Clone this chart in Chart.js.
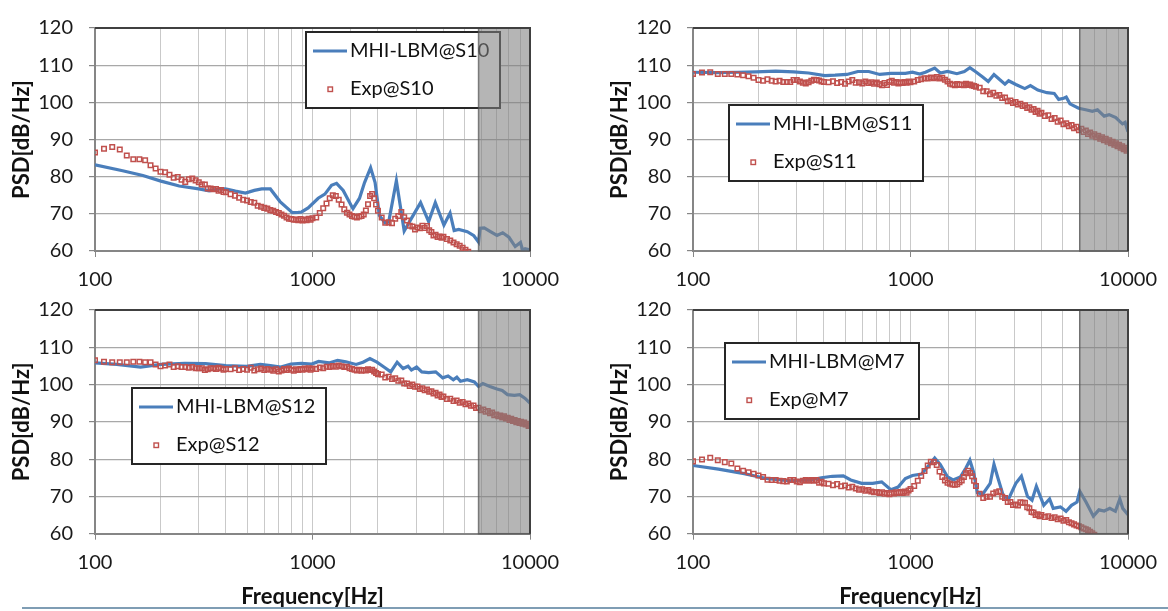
<!DOCTYPE html>
<html>
<head>
<meta charset="utf-8">
<script src="https://cdn.jsdelivr.net/npm/chart.js@4.4.1/dist/chart.umd.min.js"></script>
<style>
  body { margin: 0; background: #fff; width: 1168px; height: 611px; position: relative; overflow: hidden; }
  canvas { position: absolute; }
  #rule { position: absolute; left: 22px; top: 607px; width: 1146px; height: 2px; background: #7f9db4; }
</style>
</head>
<body>
<canvas id="c1" width="570" height="300" style="left:0;top:0"></canvas>
<canvas id="c2" width="570" height="300" style="left:598px;top:0"></canvas>
<canvas id="c3" width="570" height="328" style="left:0;top:282px"></canvas>
<canvas id="c4" width="570" height="328" style="left:598px;top:282px"></canvas>
<div id="rule"></div>
<script>
// tick labels
const xTickLabels = ['100', '1000', '10000'];
const yTicks = [60, 70, 80, 90, 100, 110, 120];

// experiment frequency bins (Hz)
const expFreq = [100,110,120,130,140,150,160,170,180,190,200,210,220,230,240,250,260,270,280,290,300,310,320,330,340,350,360,370,380,390,400,
  420,440,460,480,500,520,540,560,580,600,620,640,660,680,700,720,740,760,780,800,820,840,860,880,900,920,940,960,980,1000,
  1040,1080,1120,1160,1200,1240,1280,1320,1360,1400,1440,1480,1520,1560,1600,1640,1680,1720,1760,1800,1840,1880,1920,1960,2000,
  2080,2160,2240,2320,2400,2480,2560,2640,2720,2800,2880,2960,3040,3120,3200,3280,3360,3440,3520,3600,3680,3760,3840,3920,4000,
  4150,4300,4450,4600,4750,4900,5050,5200,5350,5500,5650,5800,5950,6100,6250,6400,6550,6700,6850,7000,7150,7300,7450,7600,7750,7900,8050,8200,8350,8500,8650,8800,8950,9100,9250,9400,9550,9700,9850,10000];

// S10
const simFreqS10 = [100,134,166,201,244,300,335,372,398,442,492,540,584,640,709,808,860,891,955,1062,1140,1223,1290,1384,1510,1535,1645,1735,1850,1940,2030,2150,2240,2430,2640,2845,3140,3420,3670,4020,4290,4480,4700,5150,5520,5800,5900,6160,6580,7050,7490,8000,8550,9040,9250,9500,10000];
const simS10 = [83.2,81.6,80.3,78.8,77.5,76.7,76.2,76.7,76.7,76.1,75.6,76.3,76.7,76.7,73.3,70.3,70.4,70.5,71.6,74.2,75.3,77.7,78.2,76.3,72.1,71.4,74.2,78.4,82.4,78.4,69.6,67.6,67.8,78.9,65.4,68.7,73.0,67.9,73.0,67.0,70.2,65.5,65.8,65.2,64.1,62.4,66.1,66.2,65.2,64.2,64.9,63.7,61.2,62.3,60.2,60.6,60.3];
const expS10 = [86.5,87.5,88.0,87.3,85.7,84.7,84.7,84.4,83.1,82.2,81.3,81.2,80.5,79.7,79.9,79.2,78.6,79.3,79.5,79.0,78.5,77.9,77.9,76.8,76.8,76.6,76.7,76.2,76.4,75.9,75.8,
  75.3,74.9,74.3,73.8,73.6,73.2,73.0,72.2,71.9,71.6,71.4,71.0,70.8,70.5,70.2,69.8,69.5,69.0,68.7,68.6,68.4,68.5,68.3,68.6,68.2,68.5,68.3,68.7,68.4,68.8,
  69.0,70.2,71.5,72.8,74.2,75.0,74.8,73.8,72.5,71.2,70.3,69.8,69.4,69.2,69.0,69.3,69.4,69.8,70.9,72.6,74.8,75.3,74.2,72.5,70.8,
  69.0,67.6,67.7,67.5,68.7,69.4,70.5,69.1,68.2,66.8,66.6,65.8,66.3,66.1,66.8,66.2,66.7,65.6,65.1,64.2,64.4,63.8,63.9,63.6,63.8,
  63.2,62.8,62.3,61.8,61.4,60.9,60.3,59.8];

// S11
const simFreqS11 = [100,130,160,195,240,290,340,404,450,510,573,643,722,812,947,1021,1104,1171,1292,1370,1481,1634,1768,1875,1987,2147,2277,2420,2561,2718,2825,3050,3354,3560,3850,4240,4580,4800,5060,5200,5410,5930,6390,6860,7240,7770,8190,8790,9110,9430,9700,10000];
const simS11 = [108.1,108.0,108.1,108.2,108.4,108.2,107.9,107.2,107.3,107.5,108.3,108.3,107.5,107.8,107.8,108.1,107.6,108.1,109.2,107.9,108.3,107.7,108.3,109.3,108.3,106.8,105.6,107.5,106.2,104.9,105.8,104.8,103.7,104.5,103.3,102.6,102.4,100.8,101.1,101.4,99.6,98.4,98.0,97.6,98.0,96.3,96.7,95.9,95.0,94.2,94.6,92.1];
const expS11 = [107.6,108.0,108.1,107.6,107.6,107.6,107.5,107.3,107.0,106.6,106.0,105.8,106.2,105.8,105.6,105.8,105.5,105.5,105.5,106.0,106.0,105.6,105.3,105.1,105.4,105.8,106.1,106.0,105.9,105.6,105.5,
  105.4,105.7,105.2,105.5,105.0,105.6,106.0,105.3,105.4,105.1,105.6,105.2,105.4,105.0,105.3,104.9,104.6,105.2,104.7,105.5,105.8,105.3,105.5,105.1,105.4,105.2,105.5,105.3,105.6,105.4,
  105.6,106.0,106.2,106.5,106.4,106.7,106.5,106.8,106.4,106.6,106.1,105.6,105.0,104.8,104.6,104.9,104.7,104.8,104.6,105.0,104.7,104.8,104.5,104.4,104.2,
  103.9,103.0,103.0,102.2,102.6,101.8,102.0,101.2,101.3,100.3,100.5,99.8,100.1,99.4,99.6,99.0,99.2,98.5,98.7,98.0,98.2,97.4,97.7,96.9,97.2,
  96.3,96.5,95.5,95.8,94.8,95.1,94.1,94.4,93.6,93.9,93.0,93.4,92.5,92.9,92.0,92.4,91.5,91.9,91.0,91.4,90.6,91.0,90.2,90.6,89.8,90.2,89.4,89.8,89.0,89.4,88.6,89.0,88.2,88.6,87.8,88.2,87.4,87.8,87.0,87.3];

// S12
const simFreqS12 = [100,126,162,201,259,322,400,498,576,641,715,797,889,992,1067,1190,1305,1423,1586,1707,1837,1978,2130,2290,2450,2610,2750,2850,3010,3180,3420,3685,3970,4200,4440,4610,4790,5150,5550,5800,6070,6540,7050,7450,7880,8480,8970,9500,10000];
const simS12 = [105.8,105.4,104.7,105.4,105.7,105.6,105.1,104.9,105.4,105.1,104.7,105.5,105.7,105.5,106.2,105.8,106.5,106.1,105.4,106.0,107.0,106.0,104.7,103.4,106.0,104.3,104.9,103.9,104.7,103.4,103.2,103.4,101.8,102.3,101.3,102.0,100.9,101.3,100.7,99.5,100.3,99.5,98.8,98.4,97.3,97.1,97.3,96.3,95.0];
const expS12 = [106.5,106.1,106.0,106.0,106.0,106.1,106.1,106.0,106.0,105.4,104.9,105.1,105.4,104.7,104.9,104.7,104.7,104.5,104.7,104.4,104.4,104.4,103.9,104.1,104.4,104.4,104.2,104.5,104.3,104.0,104.2,
  104.1,104.4,103.9,104.2,104.0,104.5,103.8,104.1,104.3,103.9,104.2,104.0,103.7,104.1,103.5,103.8,104.2,103.9,104.3,104.0,103.7,104.1,103.9,104.2,104.0,104.3,104.1,104.4,104.0,104.3,
  104.2,104.6,104.4,104.8,104.7,105.0,104.8,105.1,104.9,104.7,104.8,104.4,104.2,104.0,103.8,104.0,103.7,103.9,103.8,104.1,103.9,104.0,103.5,103.1,102.8,
  102.7,101.9,102.1,101.5,101.7,101.0,101.1,100.3,100.3,99.6,100.0,99.4,99.5,98.8,99.0,98.5,98.7,98.1,98.2,97.6,97.8,97.1,97.3,96.7,96.8,
  96.1,96.2,95.6,95.7,95.1,95.3,94.7,94.9,94.3,94.4,93.7,93.8,93.1,93.3,92.7,92.9,92.3,92.5,91.8,92.0,91.5,91.7,91.2,91.5,90.9,91.1,90.5,90.8,90.2,90.5,89.9,90.2,89.7,90.0,89.5,89.8,89.3,89.5,88.9,89.0];

// M7
const simFreqM7 = [100,131,172,217,274,346,389,437,491,531,596,670,737,812,877,947,1021,1124,1190,1292,1370,1481,1570,1695,1800,1875,1950,2030,2147,2325,2420,2515,2670,2825,3050,3235,3450,3620,3790,4100,4360,4530,4890,5190,5500,5830,6000,6410,6930,7350,7770,8250,8750,9170,9460,10000];
const simM7 = [78.3,77.3,76.1,74.8,74.2,74.4,75.0,75.4,75.5,74.4,73.5,73.5,73.9,71.8,72.5,74.8,75.6,76.0,77.7,80.3,78.6,75.2,74.4,75.2,77.7,79.7,76.5,71.0,70.6,73.5,78.6,75.2,70.2,69.3,73.5,75.4,70.0,69.0,72.7,67.6,69.3,66.8,67.2,66.0,67.6,68.5,71.4,68.5,64.7,66.4,66.1,66.8,66.0,69.3,66.8,65.1];
const expM7 = [79.4,79.9,80.4,79.7,79.2,78.8,77.5,76.9,76.5,76.1,75.6,75.2,74.5,74.4,74.4,74.2,74.1,74.0,74.4,74.4,74.0,73.8,74.2,74.4,74.2,74.4,74.2,74.4,73.7,73.9,73.5,
  73.4,73.0,73.3,72.7,72.9,72.4,72.6,72.1,71.8,71.9,71.5,71.7,71.3,71.1,71.2,70.9,71.1,70.7,70.9,70.6,71.0,70.8,71.1,70.9,71.2,70.9,71.3,71.0,71.6,72.0,
  72.8,74.2,75.5,76.8,78.3,79.3,79.2,78.4,76.7,75.2,74.3,73.7,73.4,73.2,73.1,73.3,73.8,74.3,75.2,76.2,76.9,76.3,75.4,74.2,72.8,
  70.7,69.6,69.9,69.9,70.8,71.1,71.4,69.9,69.6,68.5,68.5,67.7,67.8,67.6,68.4,68.3,68.3,67.1,66.8,65.8,65.7,65.0,65.2,64.7,65.0,
  64.5,64.7,64.2,64.4,63.9,64.1,63.5,63.7,63.1,62.8,62.5,62.2,62.0,61.7,61.4,61.2,60.9,60.5,60.1,59.7];

const simColor = '#4a7ebb';
const expColor = '#c0504d';
Chart.defaults.font.family = 'Lato';

function pairs(freqs, vals) {
  return vals.map((v, i) => ({ x: freqs[i], y: v }));
}

// legend box, shaded band and dark top/right frame
const panelDeco = {
  id: 'panelDeco',
  afterDraw(chart, args, o) {
    const { ctx, chartArea: a } = chart;
    const L = o.legend;
    ctx.save();
    ctx.fillStyle = '#fff';
    ctx.fillRect(L.x, L.y, 194, 76);
    ctx.lineWidth = 2;
    ctx.strokeStyle = '#262626';
    ctx.strokeRect(L.x, L.y, 194, 76);
    ctx.strokeStyle = simColor;
    ctx.lineWidth = 3.2;
    ctx.beginPath();
    ctx.moveTo(L.x + 7, L.y + 19);
    ctx.lineTo(L.x + 41, L.y + 19);
    ctx.stroke();
    ctx.strokeStyle = expColor;
    ctx.lineWidth = 1.4;
    ctx.strokeRect(L.x + 22, L.y + 55, 4.5, 4.5);
    ctx.fillStyle = '#111';
    ctx.font = '20px Lato';
    ctx.textBaseline = 'middle';
    ctx.fillText(o.names[0], L.x + 44, L.y + 19);
    ctx.fillText(o.names[1], L.x + 44, L.y + 57);

    const sx = chart.scales.x.getPixelForValue(o.shadeFrom);
    ctx.fillStyle = 'rgba(128,128,128,0.58)';
    ctx.fillRect(sx, a.top, a.right - sx, a.bottom - a.top);
    ctx.strokeStyle = 'rgba(80,80,80,0.7)';
    ctx.lineWidth = 1.5;
    ctx.strokeRect(sx, a.top, a.right - sx, a.bottom - a.top);

    ctx.strokeStyle = '#404040';
    ctx.lineWidth = 2;
    ctx.beginPath();
    ctx.moveTo(a.left, a.top);
    ctx.lineTo(a.right, a.top);
    ctx.lineTo(a.right, a.bottom);
    ctx.stroke();
    ctx.restore();
  }
};

function makePanel(id, p) {
  new Chart(document.getElementById(id), {
    type: 'scatter',
    data: {
      datasets: [
        { label: p.names[0], data: pairs(p.simF, p.simV), showLine: true, borderColor: simColor, borderWidth: 3.2, pointRadius: 0, tension: 0, order: 1 },
        { label: p.names[1], data: pairs(expFreq, p.expV), showLine: false, pointStyle: 'rect', pointRadius: 3.2,
          pointBorderWidth: 1.5, pointBorderColor: expColor, pointBackgroundColor: 'rgba(0,0,0,0)', order: 0 }
      ]
    },
    options: {
      responsive: false,
      animation: false,
      devicePixelRatio: 1,
      layout: { padding: { left: 0, right: 37, top: 14, bottom: 0 } },
      plugins: {
        legend: { display: false },
        tooltip: { enabled: false },
        panelDeco: { legend: p.legend, names: p.names, shadeFrom: p.shadeFrom }
      },
      scales: {
        x: {
          type: 'logarithmic', min: 100, max: 10000,
          grid: { color: '#c9c9c9', lineWidth: 1, tickLength: 6,
                  tickColor: c => (c.tick && xTickLabels.includes(String(c.tick.value))) ? '#868686' : 'rgba(0,0,0,0)' },
          border: { color: '#868686', width: 2 },
          ticks: { autoSkip: false, maxRotation: 0, padding: 11, color: '#1a1a1a', font: { size: 20 },
                   callback: v => xTickLabels.includes(String(v)) ? String(v) : '' },
          title: { display: p.bottom, text: 'Frequency[Hz]', color: '#111',
                   font: { size: 22, weight: 'bold', lineHeight: 1 }, padding: { top: 0, bottom: 2 } },
          afterFit: s => { s.height = p.xAxisH; }
        },
        y: {
          min: 60, max: 120,
          afterBuildTicks: s => { s.ticks = yTicks.map(v => ({ value: v })); },
          grid: { color: '#a8a8a8', lineWidth: 1.2, tickLength: 6, tickColor: '#868686' },
          border: { color: '#868686', width: 2 },
          ticks: { padding: 16, color: '#1a1a1a', font: { size: 20 } },
          title: { display: true, text: 'PSD[dB/Hz]', color: '#111',
                   font: { size: 22, weight: 'bold', lineHeight: 1 }, padding: { top: 11, bottom: 0 } },
          afterFit: s => { s.width = 95; }
        }
      }
    },
    plugins: [panelDeco]
  });
}

makePanel('c1', { names: ['MHI-LBM@S10', 'Exp@S10'], simF: simFreqS10, simV: simS10, expV: expS10,
  legend: { x: 306, y: 32 }, shadeFrom: 5800, bottom: false, xAxisH: 49 });
makePanel('c2', { names: ['MHI-LBM@S11', 'Exp@S11'], simF: simFreqS11, simV: simS11, expV: expS11,
  legend: { x: 131, y: 105 }, shadeFrom: 6000, bottom: false, xAxisH: 49 });
makePanel('c3', { names: ['MHI-LBM@S12', 'Exp@S12'], simF: simFreqS12, simV: simS12, expV: expS12,
  legend: { x: 132, y: 106 }, shadeFrom: 5800, bottom: true, xAxisH: 76.3 });
makePanel('c4', { names: ['MHI-LBM@M7', 'Exp@M7'], simF: simFreqM7, simV: simM7, expV: expM7,
  legend: { x: 127, y: 61 }, shadeFrom: 6000, bottom: true, xAxisH: 76.3 });
</script>
</body>
</html>
